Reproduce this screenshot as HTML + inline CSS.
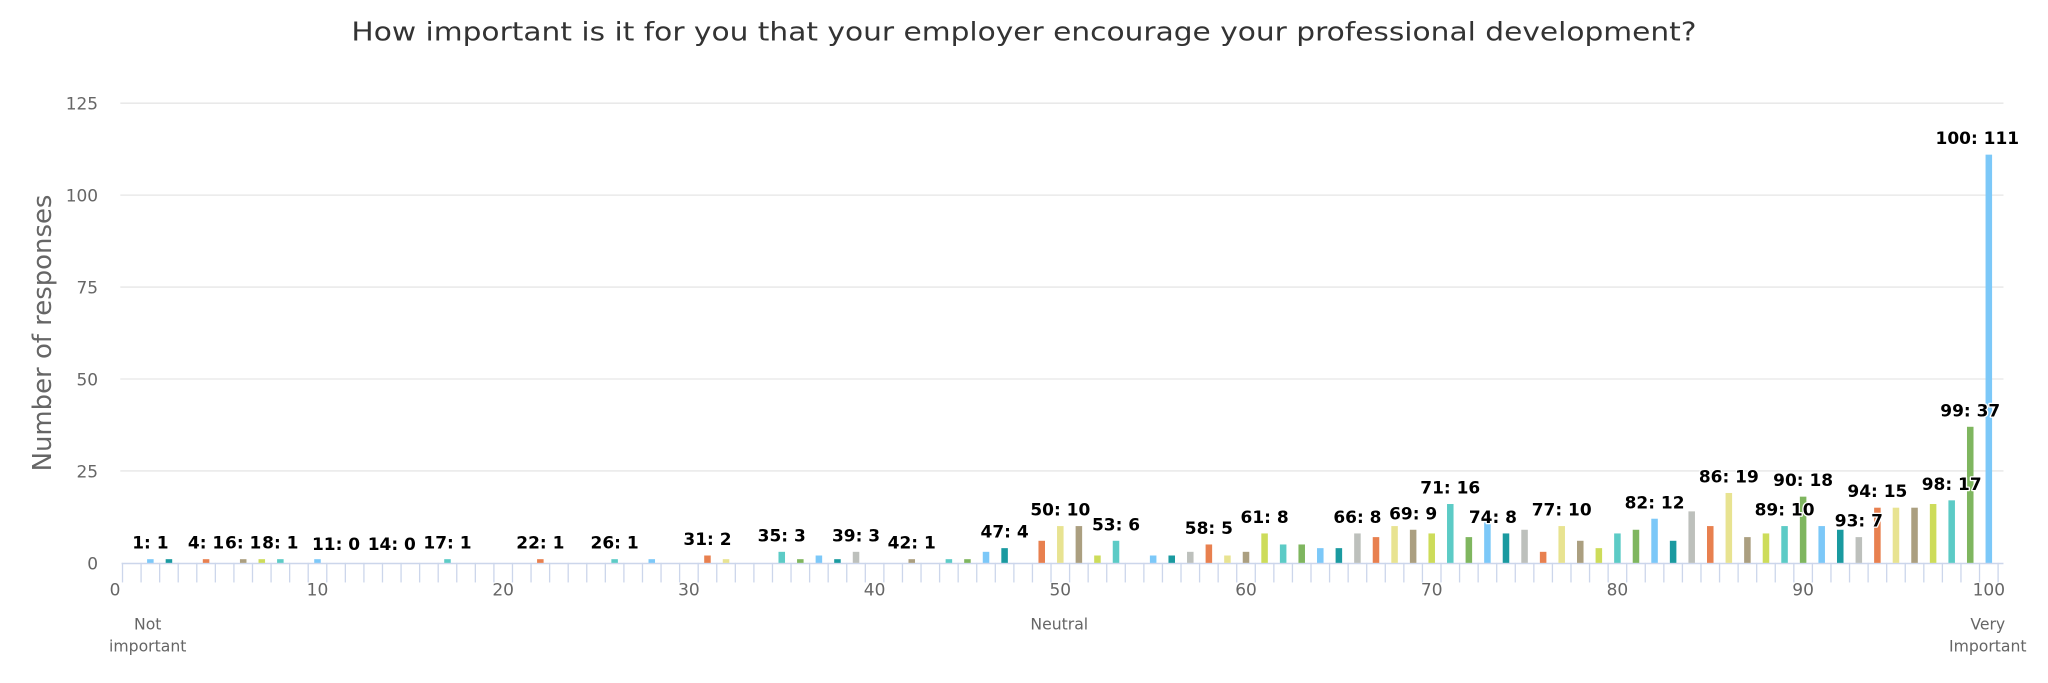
<!DOCTYPE html>
<html><head><meta charset="utf-8"><style>
html,body{margin:0;padding:0;background:#fff;}
svg{display:block;font-family:"DejaVu Sans","Liberation Sans",sans-serif;}
</style></head><body>
<svg id="c" width="2048" height="683" viewBox="0 0 1568 523" xmlns="http://www.w3.org/2000/svg">
<text x="784" y="31" text-anchor="middle" font-size="20" fill="#333" textLength="1030" lengthAdjust="spacingAndGlyphs">How important is it for you that your employer encourage your professional development?</text>
<text transform="translate(39,255) rotate(-90)" text-anchor="middle" font-size="20" fill="#666" textLength="212" lengthAdjust="spacingAndGlyphs">Number of responses</text>
<g id="grid"></g>
<g id="bars"></g>
<g id="labels"></g>
</svg>
<script>
var d=[0,1,1,0,1,0,1,1,1,0,1,0,0,0,0,0,0,1,0,0,0,0,1,0,0,0,1,0,1,0,0,2,1,0,0,3,1,2,1,3,0,0,1,0,1,1,3,4,0,6,10,10,2,6,0,2,2,3,5,2,3,8,5,5,4,4,8,7,10,9,8,16,7,11,8,9,3,10,6,4,8,9,12,6,14,10,19,7,8,10,18,10,9,7,15,15,15,16,17,37,111];
var pal=["#7cc8f8","#1a9aa0","#bdc0bc","#e8804f","#e8e391","#ab9f80","#cddc5a","#5ccbc6","#7fb65f"];
var lab=[1,4,6,8,11,14,17,22,26,31,35,39,42,47,50,53,58,61,66,69,71,74,77,82,86,89,90,93,94,98,99,100];
var NS="http://www.w3.org/2000/svg";
function el(t,a,p,txt){var e=document.createElementNS(NS,t);for(var k in a)e.setAttribute(k,a[k]);if(txt!=null)e.textContent=txt;document.getElementById(p).appendChild(e);return e;}
function X(v){return 100.8+14.22*v;}
function Y(v){return 431-v*2.816;}
for(var g=0;g<=125;g+=25){
 if(g>0)el("line",{x1:92,x2:1534,y1:Y(g),y2:Y(g),stroke:"#e6e6e6","stroke-width":1},"grid");
 el("text",{x:75,y:Y(g)+5,"text-anchor":"end","font-size":13,fill:"#666"},"grid",g);
}
el("line",{x1:93,x2:1534,y1:431.5,y2:431.5,stroke:"#ccd6eb","stroke-width":1.2},"grid");
for(var v=0;v<=101;v++){var x=X(v-0.5);el("line",{x1:x,x2:x,y1:431,y2:446,stroke:"#ccd6eb","stroke-width":1},"grid");}
for(var t=0;t<=100;t+=10){el("text",{x:t==0?88:X(t),y:456,"text-anchor":"middle","font-size":13,fill:"#666"},"grid",t);}
el("text",{x:113,y:482,"text-anchor":"middle","font-size":12,fill:"#666"},"grid","Not");
el("text",{x:113,y:499,"text-anchor":"middle","font-size":12,fill:"#666"},"grid","important");
el("text",{x:811,y:482,"text-anchor":"middle","font-size":12,fill:"#666"},"grid","Neutral");
el("text",{x:1522,y:482,"text-anchor":"middle","font-size":12,fill:"#666"},"grid","Very");
el("text",{x:1522,y:499,"text-anchor":"middle","font-size":12,fill:"#666"},"grid","Important");
for(var v=0;v<=100;v++){
 if(d[v]>0){var h=d[v]*2.816;el("rect",{x:X(v)-2.5,y:431-h,width:5,height:h,fill:pal[(v+8)%9]},"bars");}
}
lab.forEach(function(v){
 var yy=Y(d[v])-8; if(d[v]==0)yy=421;
 var xx=X(v), anc="middle"; if(v==74)xx-=10; if(v==100){xx=1546;anc="end";}
 el("text",{x:xx,y:yy,"text-anchor":anc,"font-size":13,"font-weight":"bold",fill:"#000",stroke:"#fff","stroke-width":2,"paint-order":"stroke","stroke-linejoin":"round"},"labels",v+": "+d[v]);
});
</script>
</body></html>
